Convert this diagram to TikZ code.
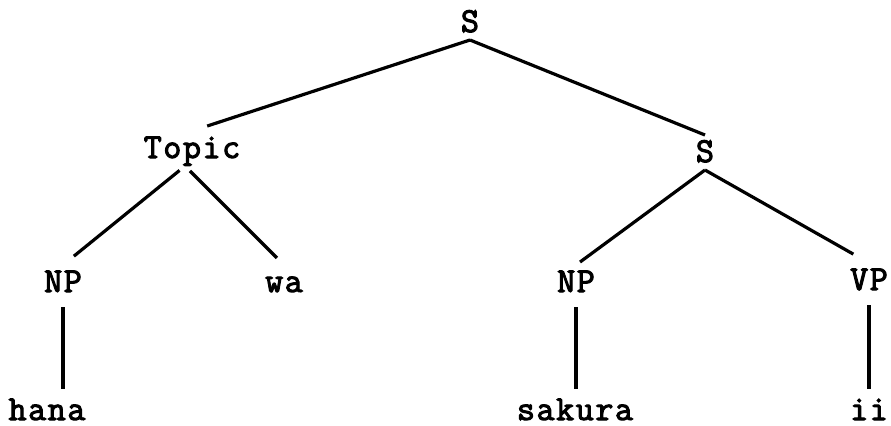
\documentclass[tikz,border=0pt]{standalone}
\usepackage{fontspec}
\newfontfamily\treefont{Latin Modern Mono}[FakeBold=3,LetterSpace=4.5]
\usepackage{tikz}
\usetikzlibrary{arrows.meta,positioning}

\begin{document}
\begin{tikzpicture}[x=0.5pt,y=-0.5pt]
  \tikzset{lbl/.style={font=\treefont\fontsize{17.5}{20}\selectfont,anchor=base,inner sep=4pt,outer sep=0pt,text height=9.5pt,text depth=0pt},
    branch/.style={line width=1.6pt}}
  \useasboundingbox (0,0) rectangle (891,425);
  \node[lbl] (s0) at (470,32) {S};
  \node[lbl] (topic) at (192,158) {Topic};
  \node[lbl] (s1) at (705,162) {S};
  \node[lbl] (np1) at (63,292) {NP};
  \node[lbl] (wa) at (284,292) {wa};
  \node[lbl] (np2) at (576,292) {NP};
  \node[lbl] (vp) at (869,290) {VP};
  \node[lbl] (hana) at (47,420) {hana};
  \node[lbl] (sakura) at (575,420) {sakura};
  \node[lbl] (ii) at (869,420) {ii};
  \draw[branch,shorten >=8pt] (s0.south) -- (topic.north);
  \draw[branch] (s0.south) -- (s1.north);
  \draw[branch,shorten <=3.5pt,shorten >=7pt] ([xshift=-3.5pt]topic.south) -- (np1.north);
  \draw[branch,shorten <=3.5pt,shorten >=5pt] ([xshift=-3.5pt]topic.south) -- (wa.north);
  \draw[branch,shorten >=2.5pt] (s1.south) -- (np2.north);
  \draw[branch,shorten >=9pt] (s1.south) -- (vp.north);
  \draw[branch,shorten <=3.5pt,shorten >=2pt] (np1.south) -- (np1.south |- hana.north);
  \draw[branch,shorten <=3.5pt,shorten >=2pt] (np2.south) -- (np2.south |- sakura.north);
  \draw[branch,shorten <=3.5pt,shorten >=2pt] (vp.south) -- (vp.south |- ii.north);
\end{tikzpicture}
\end{document}
